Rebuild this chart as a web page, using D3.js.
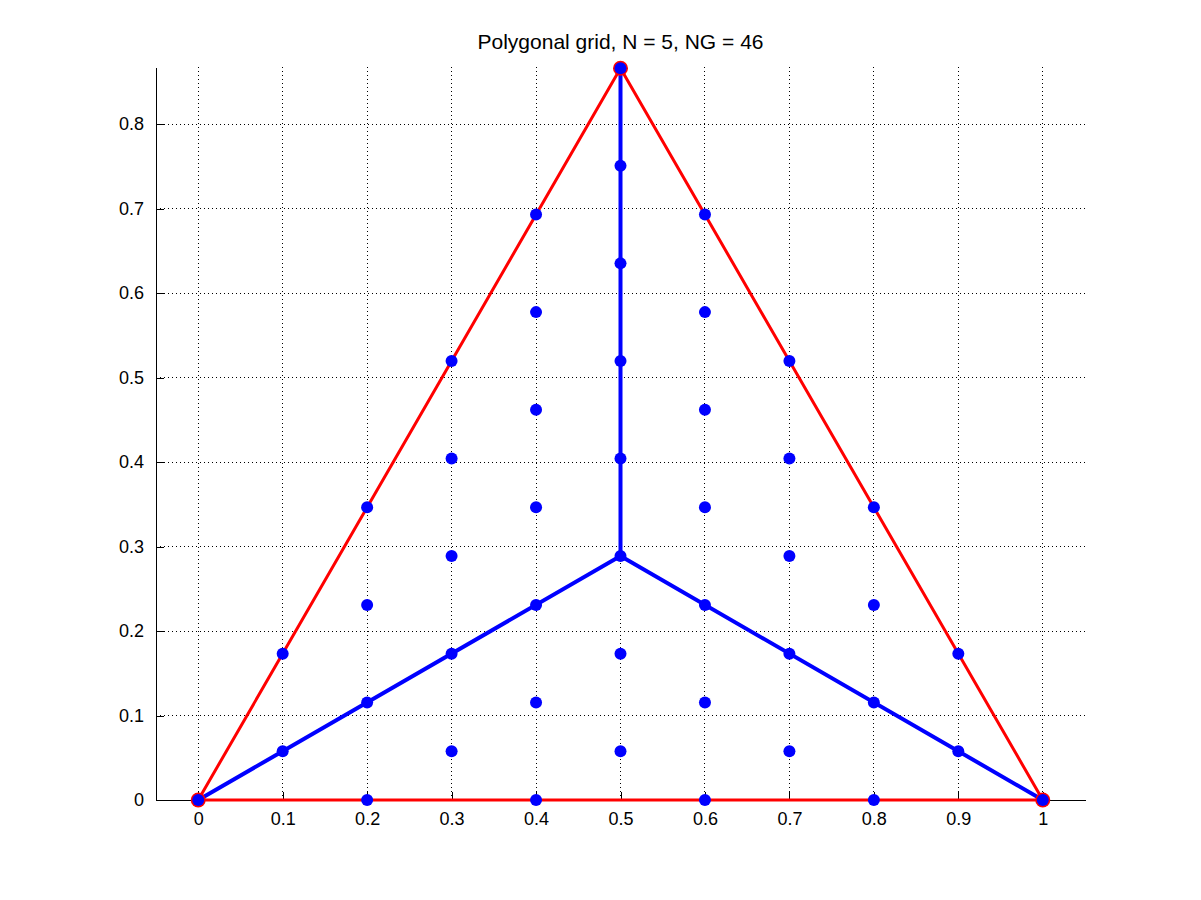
<!DOCTYPE html>
<html><head><meta charset="utf-8">
<script src="https://cdn.jsdelivr.net/npm/d3@7"></script>
<style>body{margin:0;background:#fff}svg{display:block}text{font-family:"Liberation Sans",Arial,sans-serif}</style>
</head><body>
<svg id="c" width="1201" height="900"></svg>
<script>
const title = "Polygonal grid, N = 5, NG = 46";
const xTicks = [0,0.1,0.2,0.3,0.4,0.5,0.6,0.7,0.8,0.9,1];
const yTicks = [0,0.1,0.2,0.3,0.4,0.5,0.6,0.7,0.8];
const vertX = [0, 1, 0.5];
const vertY = [0, 0, 0.866];
const centroidX = 0.5, centroidY = 0.2887;
const pointsX = [0,0.2,0.4,0.6,0.8,1,
  0.1,0.3,0.5,0.7,0.9,
  0.2,0.4,0.6,0.8,
  0.1,0.3,0.5,0.7,0.9,
  0.2,0.4,0.6,0.8,
  0.3,0.5,0.7,
  0.2,0.4,0.6,0.8,
  0.3,0.5,0.7,
  0.4,0.6,
  0.3,0.5,0.7,
  0.4,0.6,
  0.5,
  0.4,0.6,
  0.5,
  0.5];
const pointsY = [0,0,0,0,0,0,
  0.0577,0.0577,0.0577,0.0577,0.0577,
  0.1155,0.1155,0.1155,0.1155,
  0.1732,0.1732,0.1732,0.1732,0.1732,
  0.2309,0.2309,0.2309,0.2309,
  0.2887,0.2887,0.2887,
  0.3464,0.3464,0.3464,0.3464,
  0.4041,0.4041,0.4041,
  0.4619,0.4619,
  0.5196,0.5196,0.5196,
  0.5774,0.5774,
  0.6351,
  0.6928,0.6928,
  0.7506,
  0.866];

const svg = d3.select("#c");
const L=156,R=1085,T=67,B=800;
const x = d3.scaleLinear().domain([-0.05,1.05]).range([L,R]);
const y = d3.scaleLinear().domain([0,0.8675]).range([B,T]);

// grid
const g = svg.append("g");
g.selectAll(".gx").data(xTicks).join("line")
  .attr("x1",d=>x(d)).attr("x2",d=>x(d)).attr("y1",B).attr("y2",T)
  .attr("stroke","#000").attr("stroke-width",1).attr("stroke-dasharray","1,3").attr("shape-rendering","crispEdges");
g.selectAll(".gy").data(yTicks).join("line")
  .attr("y1",d=>y(d)).attr("y2",d=>y(d)).attr("x1",L).attr("x2",R)
  .attr("stroke","#000").attr("stroke-width",1).attr("stroke-dasharray","1,3").attr("shape-rendering","crispEdges");

// axes
const xAxis = d3.axisBottom(x).tickValues(xTicks).tickSizeInner(-8).tickSizeOuter(0).tickPadding(12).tickFormat(d3.format("~g"));
const yAxis = d3.axisLeft(y).tickValues(yTicks).tickSizeInner(-8).tickSizeOuter(0).tickPadding(12).tickFormat(d3.format("~g"));
const ax = svg.append("g").attr("transform",`translate(0,${B})`).call(xAxis);
const ay = svg.append("g").attr("transform",`translate(${L},0)`).call(yAxis);
[ax,ay].forEach(a=>{
  a.attr("font-size",18).attr("font-family","Liberation Sans, Arial, sans-serif");
  a.selectAll("text").attr("font-size",18).attr("fill","#000");
  a.selectAll("line,path").attr("stroke","#000").attr("shape-rendering","crispEdges");
});

// red triangle
const tri = vertX.map((v,i)=>[x(v),y(vertY[i])]);
svg.append("path").attr("d",d3.line()([...tri,tri[0]]))
  .attr("fill","none").attr("stroke","#ff0000").attr("stroke-width",3).attr("stroke-linejoin","round");

// blue spokes
vertX.forEach((v,i)=>{
  svg.append("line").attr("x1",x(centroidX)).attr("y1",y(centroidY))
    .attr("x2",x(v)).attr("y2",y(vertY[i]))
    .attr("stroke","#0000ff").attr("stroke-width",4).attr("stroke-linecap","round");
});

// red vertex circles
svg.selectAll(".rv").data(vertX).join("circle")
  .attr("cx",d=>x(d)).attr("cy",(d,i)=>y(vertY[i])).attr("r",7.5)
  .attr("fill","#ff0000");

// blue points
svg.selectAll(".bp").data(pointsX).join("circle")
  .attr("cx",d=>x(d)).attr("cy",(d,i)=>y(pointsY[i])).attr("r",6)
  .attr("fill","#0000ff");

svg.append("text").attr("x",(L+R)/2).attr("y",49).attr("text-anchor","middle")
  .attr("font-size",21).attr("fill","#000").text(title);
</script>
</body></html>
